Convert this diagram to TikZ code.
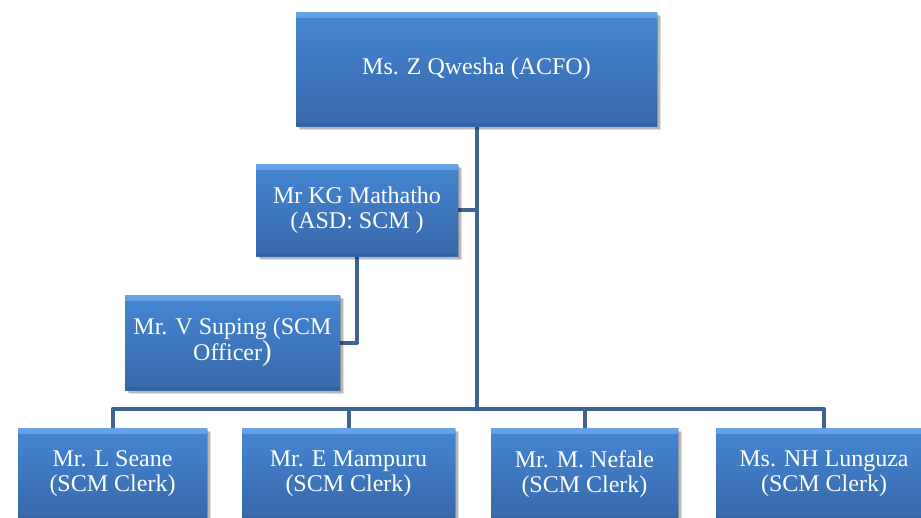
\documentclass[tikz,border=0pt]{standalone}
\usepackage{fontspec}
\setmainfont{Liberation Serif}
\usetikzlibrary{shadows,backgrounds}

\definecolor{boxhi}{HTML}{66A2E6}
\definecolor{boxtop}{HTML}{4486D4}
\definecolor{boxbot}{HTML}{3768AA}
\definecolor{linkcol}{HTML}{3D6594}

\tikzset{
  orgbox/.style={
    rectangle, inner sep=0pt, align=center, text=white,
    font=\fontsize{24}{25}\selectfont,
    top color=boxtop, bottom color=boxbot,
    drop shadow={shadow xshift=4pt, shadow yshift=-4pt, opacity=.12, fill=black},
    drop shadow={shadow xshift=2.5pt, shadow yshift=-2.5pt, opacity=.18, fill=black},
    drop shadow={shadow xshift=1pt, shadow yshift=-1pt, opacity=.2, fill=black},
    path picture={
      \shade[top color=boxhi, bottom color=boxtop]
        (path picture bounding box.north west) rectangle
        ([yshift=-5pt]path picture bounding box.north east);
      \fill[boxbot!85!black, opacity=.35]
        (path picture bounding box.south west) rectangle
        ([yshift=3pt]path picture bounding box.south east);
    }
  },
  link/.style={draw=linkcol, line width=4pt, line join=round, line cap=butt}
}

\begin{document}
\begin{tikzpicture}[x=1pt, y=-1pt]
  \useasboundingbox (0,0) rectangle (921,517);
  \clip (0,0) rectangle (921,517);

  % management
  \node[orgbox, minimum width=361pt, minimum height=114pt] (acfo) at (476.5,69) {Ms. Z Qwesha (ACFO)};
  \node[orgbox, minimum width=202pt, minimum height=92pt] (asd) at (357,210) {Mr KG Mathatho\\(ASD: SCM )};
  \node[orgbox, minimum width=215pt, minimum height=95pt] (officer) at (232.5,342.5) {Mr. V Suping (SCM\\Officer{\fontsize{29}{25}\selectfont )}};

  % clerks
  \node[orgbox, minimum width=189pt, minimum height=92pt] (seane) at (112.5,474) {Mr. L Seane\\(SCM Clerk)};
  \node[orgbox, minimum width=213pt, minimum height=92pt] (mampuru) at (348.5,474) {Mr. E Mampuru\\(SCM Clerk)};
  \node[orgbox, minimum width=187pt, minimum height=92pt] (nefale) at (584.5,474) {Mr. M. Nefale\\(SCM Clerk)};
  \node[orgbox, minimum width=216pt, minimum height=92pt] (lunguza) at (824,474) {Ms. NH Lunguza\\(SCM Clerk)};

  \coordinate (bus) at (476.5,409);

  % reporting lines
  \begin{pgfonlayer}{background}
    \draw[link] (acfo.south) -- (bus);
    \draw[link] (asd.east) -- (asd.east -| acfo.south);
    \draw[link] (asd.south) |- (officer.east);
    \draw[link] (seane.north) -- (seane.north |- bus) -- (lunguza.north |- bus) -- (lunguza.north);
    \draw[link] (mampuru.north) -- (mampuru.north |- bus);
    \draw[link] (nefale.north) -- (nefale.north |- bus);
  \end{pgfonlayer}
\end{tikzpicture}
\end{document}
